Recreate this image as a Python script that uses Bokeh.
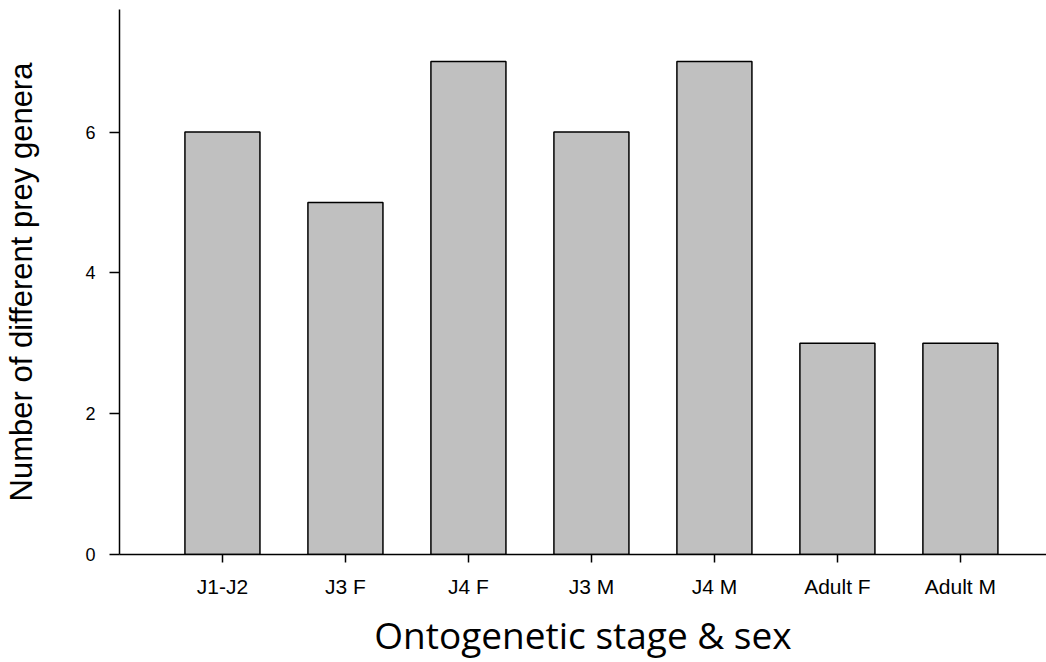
from bokeh.plotting import figure
from bokeh.models import FixedTicker, Range1d
from bokeh.embed import file_html
from bokeh.resources import INLINE

categories = ["J1-J2", "J3 F", "J4 F", "J3 M", "J4 M", "Adult F", "Adult M"]
values = [6, 5, 7, 6, 7, 3, 3]
y_ticks = [0, 2, 4, 6]

xs = list(range(1, len(categories) + 1))

p = figure(width=1046, height=662, output_backend="svg", toolbar_location=None,
           x_range=Range1d(0.163, 7.70), y_range=Range1d(0, 7.74),
           min_border_left=119, min_border_right=0, min_border_top=9, min_border_bottom=107)

p.vbar(x=xs, top=values, width=0.61, bottom=0, fill_color="#c0c0c0",
       line_color="black", line_width=1.5)

p.outline_line_color = None
p.xgrid.grid_line_color = None
p.ygrid.grid_line_color = None
p.background_fill_color = "white"

xa = p.xaxis[0]
xa.ticker = FixedTicker(ticks=xs)
xa.major_label_overrides = {i: c for i, c in zip(xs, categories)}
xa.minor_tick_line_color = None
xa.major_tick_out = 8
xa.major_tick_in = 0
xa.major_label_standoff = 12
xa.major_label_text_font = "Liberation Sans"
xa.major_label_text_font_size = "21px"
xa.major_label_text_color = "black"
xa.axis_line_color = "black"
xa.axis_line_width = 1.5
xa.major_tick_line_color = "black"
xa.major_tick_line_width = 1.5
xa.axis_label = "Ontogenetic stage & sex"
xa.axis_label_text_font = "Open Sans"
xa.axis_label_text_font_style = "normal"
xa.axis_label_text_font_size = "37px"
xa.axis_label_text_color = "black"
xa.axis_label_standoff = 8

ya = p.yaxis[0]
ya.ticker = FixedTicker(ticks=y_ticks)
ya.minor_tick_line_color = None
ya.major_tick_out = 10
ya.major_tick_in = 0
ya.major_label_standoff = 14
ya.major_label_text_font = "Liberation Sans"
ya.major_label_text_font_size = "18px"
ya.major_label_text_color = "black"
ya.axis_line_color = "black"
ya.axis_line_width = 1.5
ya.major_tick_line_color = "black"
ya.major_tick_line_width = 1.5
ya.axis_label = "Number of different prey genera"
ya.axis_label_text_font = "Liberation Sans"
ya.axis_label_text_font_style = "normal"
ya.axis_label_text_font_size = "31px"
ya.axis_label_text_color = "black"
ya.axis_label_standoff = 43

open("out.html", "w").write(file_html(p, INLINE))
